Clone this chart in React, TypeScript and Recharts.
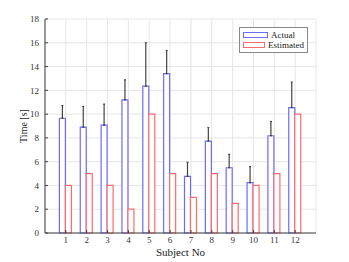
import {
  BarChart,
  Bar,
  XAxis,
  YAxis,
  CartesianGrid,
  ErrorBar,
  Legend,
  Label,
} from "recharts";

const subjects = ["1", "2", "3", "4", "5", "6", "7", "8", "9", "10", "11", "12"];
const actual = [9.65, 8.9, 9.07, 11.2, 12.35, 13.4, 4.76, 7.73, 5.49, 4.23, 8.18, 10.55];
const estimated = [4, 5, 4, 2, 10, 5, 3, 5, 2.5, 4, 5, 10];
// top of the error whiskers
const upper = [10.72, 10.64, 10.84, 12.88, 16.0, 15.35, 5.95, 8.87, 6.62, 5.58, 9.38, 12.69];
const yTicks = [0, 2, 4, 6, 8, 10, 12, 14, 16, 18];

const data = subjects.map((s, i) => ({
  subject: s,
  actual: actual[i],
  estimated: estimated[i],
  err: [0, upper[i] - actual[i]],
}));

const font = "'Liberation Serif', 'DejaVu Serif', serif";
const axisColor = "#404040";
const blue = "#6b6bff";
const red = "#ff6b6b";

const LegendBox = () => (
  <div
    style={{
      border: "1px solid #888",
      background: "#fff",
      padding: "2px 3px",
      fontFamily: font,
      fontSize: 9,
      lineHeight: "10px",
      color: "#222",
    }}
  >
    {[
      { name: "Actual", c: blue },
      { name: "Estimated", c: red },
    ].map((it) => (
      <div key={it.name} style={{ display: "flex", alignItems: "center" }}>
        <span
          style={{
            display: "inline-block",
            width: 25,
            height: 6,
            border: `1px solid ${it.c}`,
            marginRight: 3,
            boxSizing: "border-box",
          }}
        />
        {it.name}
      </div>
    ))}
  </div>
);

export default function App() {
  return (
    <div style={{ position: "absolute", left: 0, top: 0, width: 349, height: 262, background: "#fff" }}>
      <BarChart
        width={349}
        height={262}
        data={data}
        margin={{ top: 19, right: 33, bottom: 0, left: 0 }}
        barGap={0}
        barSize={6}
      >
        <CartesianGrid stroke="#e6e6e6" strokeWidth={1} />
        <XAxis
          dataKey="subject"
          padding={{ left: 10.4, right: 10.4 }}
          height={29}
          stroke={axisColor}
          tickSize={-3}
          tickMargin={7}
          tick={{ fontFamily: font, fontSize: 9, fill: "#333" }}
        >
          <Label
            value="Subject No"
            position="insideBottom"
            offset={6}
            style={{ fontFamily: font, fontSize: 11, fill: "#222" }}
          />
        </XAxis>
        <XAxis
          xAxisId="top"
          dataKey="subject"
          orientation="top"
          padding={{ left: 10.4, right: 10.4 }}
          height={0}
          stroke={axisColor}
          tickSize={-3}
          tickFormatter={() => ""}
        />
        <YAxis
          domain={[0, 18]}
          ticks={yTicks}
          width={45}
          stroke={axisColor}
          tickSize={-3}
          tickMargin={9}
          tick={{ fontFamily: font, fontSize: 9, fill: "#333" }}
        >
          <Label
            value="Time [s]"
            angle={-90}
            position="insideLeft"
            offset={23}
            style={{ fontFamily: font, fontSize: 10, fill: "#222", textAnchor: "middle" }}
          />
        </YAxis>
        <YAxis
          yAxisId="r"
          orientation="right"
          domain={[0, 18]}
          ticks={yTicks}
          width={0}
          stroke={axisColor}
          tickSize={-3}
          tickFormatter={() => ""}
        />
        <Legend
          layout="horizontal"
          verticalAlign="middle"
          align="center"
          wrapperStyle={{ left: 239, top: 27, width: 69 }}
          content={() => <LegendBox />}
        />
        <Bar dataKey="actual" name="Actual" fill="#fff" stroke={blue} strokeWidth={1.2} isAnimationActive={false}>
          <ErrorBar dataKey="err" direction="y" width={1} stroke="#444" strokeWidth={1.2} />
        </Bar>
        <Bar dataKey="estimated" name="Estimated" fill="#fff" stroke={red} strokeWidth={1.2} isAnimationActive={false} />
      </BarChart>
    </div>
  );
}
